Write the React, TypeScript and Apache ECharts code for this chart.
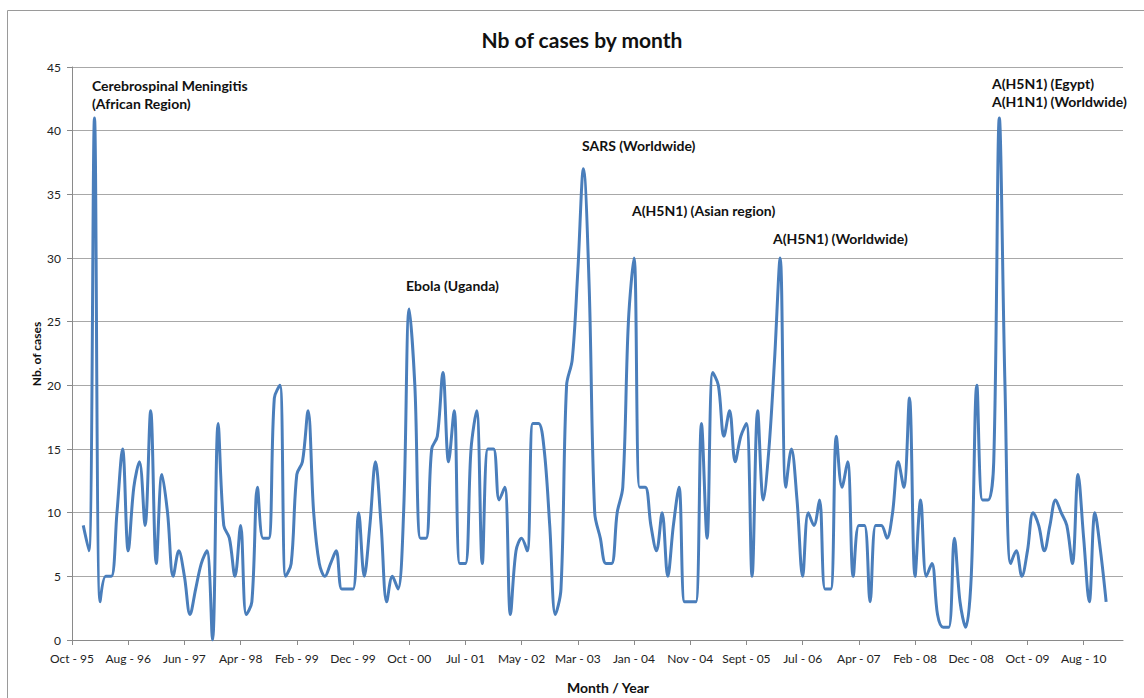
import React, { useEffect, useRef } from "react";
import * as echarts from "echarts";

// x-axis tick labels, one every 10 monthly categories
const tickLabels = [
  "Oct - 95", "Aug - 96", "Jun - 97", "Apr - 98", "Feb - 99", "Dec - 99",
  "Oct - 00", "Jul - 01", "May - 02", "Mar - 03", "Jan - 04", "Nov - 04",
  "Sept - 05", "Jul - 06", "Apr - 07", "Feb - 08", "Dec - 08", "Oct - 09", "Aug - 10",
];

const categoryCount = 188;
const leadingEmpty = 2;

// number of cases by month
const cases = [
  9, 7, 41, 3, 5, 5, 10, 15, 7, 12, 14, 9, 18, 6, 13, 10, 5, 7, 5, 2,
  4, 6, 7, 0, 17, 9, 8, 5, 9, 2, 3, 12, 8, 8, 19, 20, 5, 6, 13, 14,
  18, 10, 6, 5, 6, 7, 4, 4, 4, 10, 5, 9, 14, 9, 3, 5, 4, 10, 26, 20,
  8, 8, 15, 16, 21, 14, 18, 6, 6, 15, 18, 6, 15, 15, 11, 12, 2, 7, 8, 7,
  17, 17, 15, 9, 2, 4, 20, 22, 29, 37, 28, 10, 8, 6, 6, 10, 12, 25, 30, 12,
  12, 9, 7, 10, 5, 9, 12, 3, 3, 3, 17, 8, 21, 20, 16, 18, 14, 16, 17, 5,
  18, 11, 15, 22, 30, 12, 15, 11, 5, 10, 9, 11, 4, 4, 16, 12, 14, 5, 9, 9,
  3, 9, 9, 8, 10, 14, 12, 19, 5, 11, 5, 6, 2, 1, 1, 8, 3, 1, 5, 20,
  11, 11, 14, 41, 20, 6, 7, 5, 7, 10, 9, 7, 9, 11, 10, 9, 6, 13, 8, 3,
  10, 7, 3,
];

const yTicks = [0, 5, 10, 15, 20, 25, 30, 35, 40, 45];

const annotations = [
  { lines: ["Cerebrospinal Meningitis", "(African Region)"], x: 92, y: 85 },
  { lines: ["Ebola (Uganda)"], x: 406, y: 285 },
  { lines: ["SARS (Worldwide)"], x: 582, y: 145 },
  { lines: ["A(H5N1) (Asian region)"], x: 632, y: 210 },
  { lines: ["A(H5N1) (Worldwide)"], x: 773, y: 238 },
  { lines: ["A(H5N1) (Egypt)", "A(H1N1) (Worldwide)"], x: 992, y: 83 },
];

const FONT = "Lato, 'Open Sans', sans-serif";

export default function App() {
  const ref = useRef<HTMLDivElement>(null);

  useEffect(() => {
    if (!ref.current) return;
    const chart = echarts.init(ref.current, undefined, { renderer: "svg" });

    const categories = Array.from({ length: categoryCount }, (_, i) =>
      i % 10 === 0 && tickLabels[i / 10] ? tickLabels[i / 10] : "m" + i
    );
    const seriesData: (number | null)[] = Array.from({ length: categoryCount }, (_, i) => {
      const k = i - leadingEmpty;
      return k >= 0 && k < cases.length ? cases[k] : null;
    });

    const annoGraphics: any[] = [];
    annotations.forEach((a) => {
      a.lines.forEach((line, li) => {
        annoGraphics.push({
          type: "text",
          x: a.x,
          y: a.y + li * 18.5,
          silent: true,
          style: {
            text: line,
            font: `bold 14px ${FONT}`,
            fill: "#111",
            textAlign: "left",
            textVerticalAlign: "middle",
          },
        });
      });
    });

    chart.setOption({
      animation: false,
      backgroundColor: "#ffffff",
      grid: { left: 72, right: 21, top: 67, bottom: 58, containLabel: false },
      xAxis: {
        type: "category",
        data: categories,
        boundaryGap: false,
        axisLine: { show: true, lineStyle: { color: "#8a8a8a", width: 1 } },
        axisTick: { show: true, interval: 9, length: 5, lineStyle: { color: "#8a8a8a" } },
        axisLabel: {
          interval: 9,
          margin: 12,
          fontSize: 12,
          fontFamily: FONT,
          color: "#222",
          formatter: (_v: string, idx: number) =>
            idx % 10 === 0 && tickLabels[idx / 10] ? tickLabels[idx / 10] : "",
        },
        splitLine: { show: false },
      },
      yAxis: {
        type: "value",
        min: yTicks[0],
        max: yTicks[yTicks.length - 1],
        interval: 5,
        axisLine: { show: true, lineStyle: { color: "#8a8a8a", width: 1 } },
        axisTick: { show: true, length: 5, lineStyle: { color: "#8a8a8a" } },
        axisLabel: { margin: 11, fontSize: 12, fontFamily: FONT, color: "#222" },
        splitLine: { show: true, lineStyle: { color: "#a8a8a8", width: 1 } },
      },
      series: [
        {
          type: "line",
          data: seriesData,
          smooth: 0.35,
          symbol: "none",
          connectNulls: false,
          lineStyle: { color: "#4a7ebb", width: 3 },
          z: 3,
        },
      ],
      graphic: [
        {
          type: "rect",
          silent: true,
          z: -10,
          shape: { x: 7.5, y: 10.5, width: 1300, height: 1000 },
          style: { fill: "none", stroke: "#9a9a9a", lineWidth: 1 },
        },
        {
          type: "text",
          x: 582,
          y: 39,
          silent: true,
          style: {
            text: "Nb of cases by month",
            font: `bold 21px ${FONT}`,
            fill: "#111",
            textAlign: "center",
            textVerticalAlign: "middle",
          },
        },
        {
          type: "text",
          x: 36,
          y: 354,
          rotation: Math.PI / 2,
          silent: true,
          style: {
            text: "Nb. of cases",
            font: `bold 12px ${FONT}`,
            fill: "#111",
            textAlign: "center",
            textVerticalAlign: "middle",
          },
        },
        {
          type: "text",
          x: 608,
          y: 687,
          silent: true,
          style: {
            text: "Month / Year",
            font: `bold 14px ${FONT}`,
            fill: "#111",
            textAlign: "center",
            textVerticalAlign: "middle",
          },
        },
        ...annoGraphics,
      ],
    });

    return () => chart.dispose();
  }, []);

  return (
    <div
      ref={ref}
      style={{ position: "absolute", left: 0, top: 0, width: 1144, height: 698 }}
    />
  );
}
